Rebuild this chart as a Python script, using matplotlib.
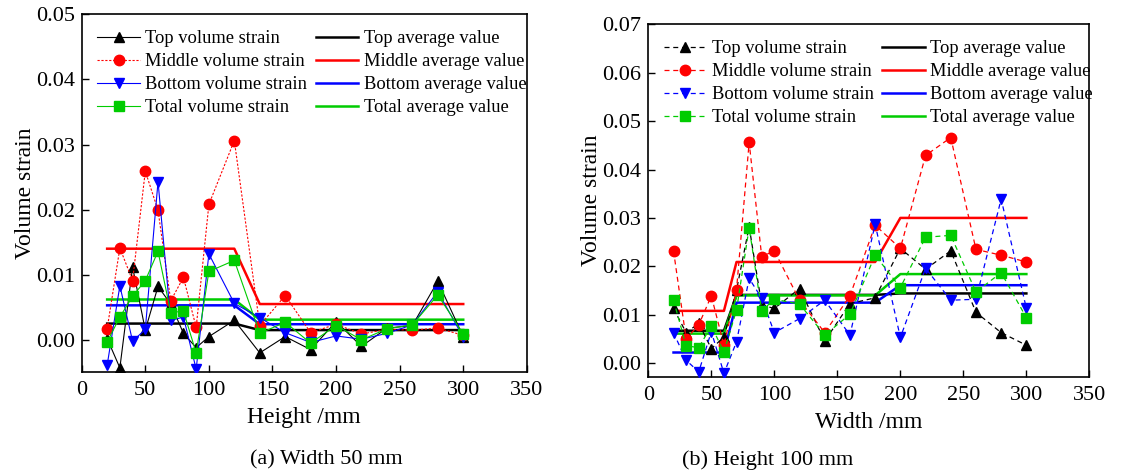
import matplotlib
matplotlib.use("Agg")
import matplotlib.pyplot as plt
from matplotlib.ticker import FormatStrFormatter

plt.rcParams['font.family'] = ['Liberation Serif', 'DejaVu Serif']
plt.rcParams['mathtext.fontset'] = 'stix'

# ---- data: (a) Width 50 mm, x = height (mm)
x_a = [20, 30, 40, 50, 60, 70, 80, 90, 100, 120, 140, 160, 180, 200, 220, 240, 260, 280, 300]
top_a = [0.0002, -0.0043, 0.0112, 0.0015, 0.0082, 0.0055, 0.0010, -0.0012, 0.0005, 0.0030,
         -0.0020, 0.0005, -0.0015, 0.0028, -0.0010, 0.0018, 0.0022, 0.0090, 0.0005]
mid_a = [0.0017, 0.0141, 0.0091, 0.0259, 0.0199, 0.0060, 0.0096, 0.0019, 0.0208, 0.0306,
         0.0022, 0.0068, 0.0011, 0.0024, 0.0009, 0.0016, 0.0015, 0.0018, 0.0007]
bot_a = [-0.0039, 0.0083, -0.0002, 0.0016, 0.0243, 0.0030, 0.0035, -0.0045, 0.0132, 0.0056,
         0.0034, 0.0011, -0.0004, 0.0006, 0.0001, 0.0010, 0.0023, 0.0074, 0.0004]
tot_a = [-0.0003, 0.0035, 0.0067, 0.0091, 0.0136, 0.0042, 0.0044, -0.0020, 0.0105, 0.0122,
         0.0010, 0.0027, -0.0005, 0.0022, 0.0000, 0.0017, 0.0023, 0.0069, 0.0009]
xavg_a = [20, 120, 140, 300]
top_avg_a = [0.0025, 0.0025, 0.0015, 0.0015]
mid_avg_a = [0.0140, 0.0140, 0.0055, 0.0055]
bot_avg_a = [0.0053, 0.0053, 0.0024, 0.0024]
tot_avg_a = [0.0062, 0.0062, 0.0031, 0.0031]

# ---- data: (b) Height 100 mm, x = width (mm)
x_b = [20, 30, 40, 50, 60, 70, 80, 90, 100, 120, 140, 160, 180, 200, 220, 240, 260, 280, 300]
top_b = [0.0113, 0.0063, 0.0082, 0.0030, 0.0054, 0.0151, 0.0282, 0.0120, 0.0113, 0.0154,
         0.0046, 0.0123, 0.0135, 0.0237, 0.0194, 0.0232, 0.0105, 0.0063, 0.0037]
mid_b = [0.0232, 0.0050, 0.0079, 0.0139, 0.0037, 0.0152, 0.0456, 0.0220, 0.0232, 0.0130,
         0.0063, 0.0139, 0.0285, 0.0237, 0.0429, 0.0466, 0.0235, 0.0223, 0.0209]
bot_b = [0.0063, 0.0006, -0.0018, 0.0065, -0.0021, 0.0044, 0.0175, 0.0134, 0.0063, 0.0092,
         0.0130, 0.0058, 0.0287, 0.0053, 0.0196, 0.0130, 0.0132, 0.0339, 0.0113]
tot_b = [0.0130, 0.0036, 0.0032, 0.0077, 0.0023, 0.0110, 0.0280, 0.0108, 0.0132, 0.0122,
         0.0058, 0.0101, 0.0223, 0.0156, 0.0260, 0.0264, 0.0147, 0.0187, 0.0094]
xavg_b = [20, 60, 70, 180, 200, 300]
top_avg_b = [0.0067, 0.0067, 0.0141, 0.0141, 0.0144, 0.0144]
mid_avg_b = [0.0108, 0.0108, 0.0209, 0.0209, 0.0300, 0.0300]
bot_avg_b = [0.0022, 0.0022, 0.0125, 0.0125, 0.0161, 0.0161]
tot_avg_b = [0.0061, 0.0061, 0.0140, 0.0140, 0.0184, 0.0184]

RED = '#ff0000'
BLUE = '#0000ff'
GREEN = '#00cc00'
BLACK = '#000000'

fig = plt.figure(figsize=(11.24, 4.76), dpi=100)
ax1 = fig.add_axes([0.0727, 0.219, 0.396, 0.751])
ax2 = fig.add_axes([0.5768, 0.2086, 0.3924, 0.7404])


def draw(ax, x, series, xavg, avgs, ls_list, lw):
    names = ['Top', 'Middle', 'Bottom', 'Total']
    markers = ['^', 'o', 'v', 's']
    colors = [BLACK, RED, BLUE, GREEN]
    h_s, h_a = [], []
    for name, y, m, c, ls in zip(names, series, markers, colors, ls_list):
        line, = ax.plot(x, y, color=c, marker=m, markersize=7.5, lw=lw, ls=ls,
                        label=name + ' volume strain', zorder=3)
        h_s.append(line)
    for name, y, c in zip(names, avgs, colors):
        line, = ax.plot(xavg, y, color=c, lw=1.8, label=name + ' average value', zorder=2)
        h_a.append(line)
    ax.legend(h_s + h_a, [h.get_label() for h in h_s + h_a], ncol=2, loc='upper left',
              frameon=False, fontsize=13.3, handlelength=2.3, columnspacing=0.45,
              labelspacing=0.33, borderaxespad=0.45, handletextpad=0.3)
    ax.set_xlim(0, 350)
    ax.set_xticks(range(0, 351, 50))
    ax.yaxis.set_major_formatter(FormatStrFormatter('%.2f'))
    ax.tick_params(direction='in', length=5, width=1, labelsize=16, top=False, right=False)
    ax.tick_params(axis='x', pad=7)
    ax.tick_params(axis='y', pad=5)
    for sp in ax.spines.values():
        sp.set_linewidth(1.2)
    ax.set_ylabel('Volume strain', fontsize=17, labelpad=0)


draw(ax1, x_a, [top_a, mid_a, bot_a, tot_a], xavg_a,
     [top_avg_a, mid_avg_a, bot_avg_a, tot_avg_a],
     ['-', (0, (2, 1.5)), '-', '-'], 0.8)
ax1.set_ylim(-0.0049, 0.05)
ax1.set_yticks([0.0, 0.01, 0.02, 0.03, 0.04, 0.05])
ax1.set_xlabel('Height /mm', fontsize=17, labelpad=5)

draw(ax2, x_b, [top_b, mid_b, bot_b, tot_b], xavg_b,
     [top_avg_b, mid_avg_b, bot_avg_b, tot_avg_b],
     [(0, (4, 3))] * 4, 0.9)
ax2.set_ylim(-0.0028, 0.07)
ax2.set_yticks([0.0, 0.01, 0.02, 0.03, 0.04, 0.05, 0.06, 0.07])
ax2.set_xlabel('Width /mm', fontsize=17, labelpad=5)

fig.text(0.29, 0.033, '(a) Width 50 mm', ha='center', va='center', fontsize=16)
fig.text(0.683, 0.033, '(b) Height 100 mm', ha='center', va='center', fontsize=16)

fig.savefig('out.png', dpi=100)
